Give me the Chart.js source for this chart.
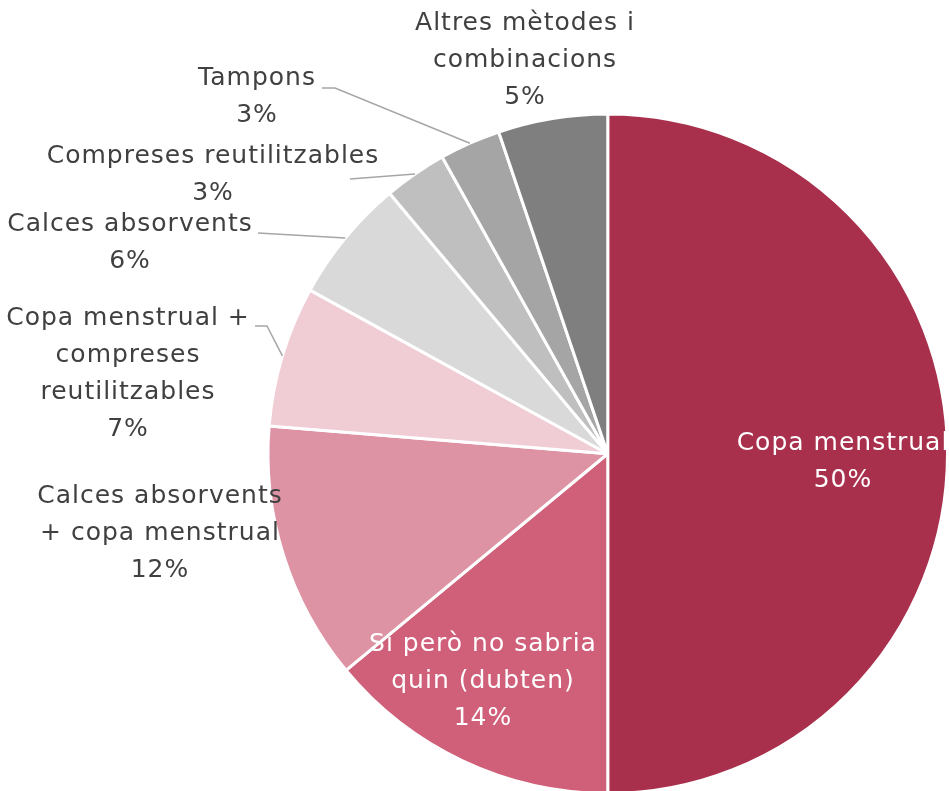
<!DOCTYPE html>
<html>
<head>
<meta charset="utf-8">
<script src="https://cdn.jsdelivr.net/npm/chart.js@4.4.1/dist/chart.umd.min.js"></script>
<style>
  html, body { margin: 0; padding: 0; background: #ffffff; overflow: hidden; }
  #wrap { width: 949px; height: 791px; position: relative; overflow: hidden; }
</style>
</head>
<body>
<div id="wrap"><canvas id="c" width="949" height="795"></canvas></div>
<script>
// ---- data ----
const categories = [
  "Copa menstrual",
  "Sí però no sabria\nquin (dubten)",
  "Calces absorvents\n+ copa menstrual",
  "Copa menstrual +\ncompreses\nreutilitzables",
  "Calces absorvents",
  "Compreses reutilitzables",
  "Tampons",
  "Altres mètodes i\ncombinacions"
];
const values = [50, 14, 12.3, 6.7, 5.9, 3.0, 2.9, 5.2];
const percentLabels = ["50%", "14%", "12%", "7%", "6%", "3%", "3%", "5%"];
const colors = ["#A8304D", "#D05F79", "#DD93A4", "#F0CDD5", "#D9D9D9", "#BFBFBF", "#A5A5A5", "#7F7F7F"];

// ---- label layout (text centre x, first line centre y, colour, leader points) ----
const labelLayout = [
  { x: 843, y: 443, color: "#ffffff" },
  { x: 483, y: 644, color: "#ffffff" },
  { x: 160, y: 496, color: "#404040" },
  { x: 128, y: 318, color: "#404040", leader: [[255, 326], [267, 326]] },
  { x: 130, y: 224, color: "#404040", leader: [[258, 233]] },
  { x: 213, y: 156, color: "#404040", leader: [[350, 179]] },
  { x: 257, y: 78,  color: "#404040", leader: [[322, 88], [335, 88]] },
  { x: 525, y: 23,  color: "#404040" }
];
const lineHeight = 37;
const fontSpec = "25px 'DejaVu Sans', sans-serif";

const labelPlugin = {
  id: 'pieLabels',
  afterDatasetsDraw(chart) {
    const ctx = chart.ctx;
    const meta = chart.getDatasetMeta(0);
    ctx.save();
    meta.data.forEach((arc, i) => {
      const L = labelLayout[i];
      if (!L.leader) return;
      const p = arc.getProps(['x', 'y', 'startAngle', 'endAngle', 'outerRadius'], true);
      const mid = (p.startAngle + p.endAngle) / 2;
      const ex = p.x + Math.cos(mid) * p.outerRadius;
      const ey = p.y + Math.sin(mid) * p.outerRadius;
      ctx.beginPath();
      ctx.strokeStyle = "#A6A6A6";
      ctx.lineWidth = 1.5;
      ctx.moveTo(L.leader[0][0], L.leader[0][1]);
      for (let k = 1; k < L.leader.length; k++) ctx.lineTo(L.leader[k][0], L.leader[k][1]);
      ctx.lineTo(ex, ey);
      ctx.stroke();
    });
    ctx.font = fontSpec;
    if ('letterSpacing' in ctx) ctx.letterSpacing = "1px";
    ctx.textAlign = 'center';
    ctx.textBaseline = 'middle';
    categories.forEach((name, i) => {
      const L = labelLayout[i];
      const lines = name.split("\n").concat([percentLabels[i]]);
      ctx.fillStyle = L.color;
      lines.forEach((t, k) => ctx.fillText(t, L.x, L.y + k * lineHeight));
    });
    ctx.restore();
  }
};

new Chart(document.getElementById('c'), {
  type: 'pie',
  data: {
    labels: categories,
    datasets: [{
      data: values,
      backgroundColor: colors,
      borderColor: "#ffffff",
      borderWidth: 3
    }]
  },
  options: {
    responsive: false,
    animation: false,
    layout: { padding: { left: 266.5, right: 0, top: 112.5, bottom: 0 } },
    plugins: { legend: { display: false }, tooltip: { enabled: false } }
  },
  plugins: [labelPlugin]
});
</script>
</body>
</html>
